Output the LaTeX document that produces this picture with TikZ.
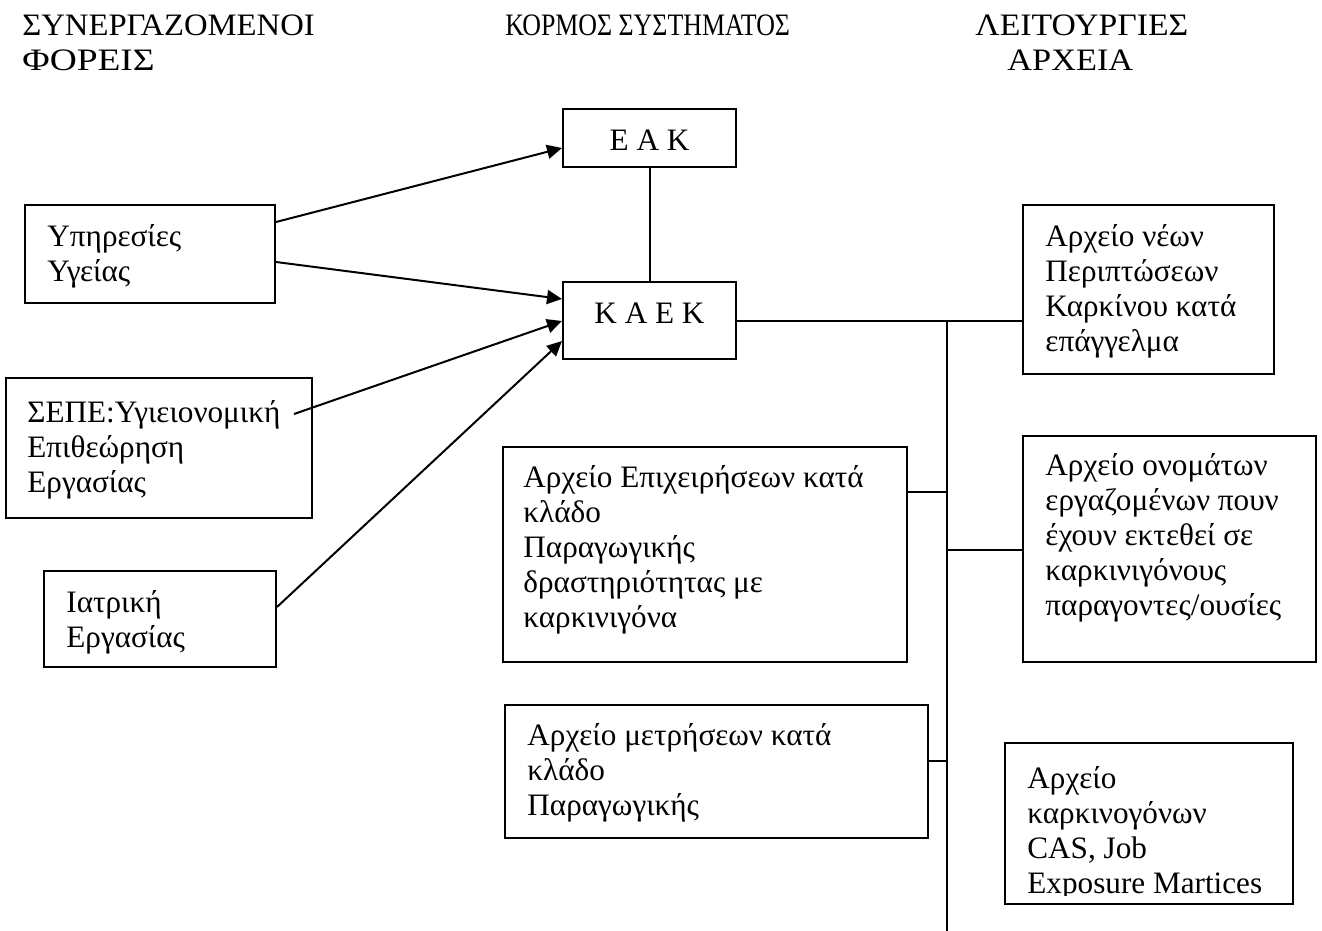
\documentclass[tikz,border=0pt]{standalone}
\usepackage{fontspec}
\usepackage{graphicx}
\setmainfont{Liberation Serif}
\usetikzlibrary{fit,calc,arrows.meta}
\newcommand\mylines[1]{\begin{tabular}[t]{@{}l@{}}#1\end{tabular}}
\begin{document}
\begin{tikzpicture}[x=0.5pt,y=-0.5pt,
  every node/.style={font=\fontsize{15.6pt}{17.5pt}\selectfont},
  box/.style={draw, line width=1pt, inner sep=0pt},
  txt/.style={inner sep=0pt, anchor=base west},
  conn/.style={line width=1pt},
  arr/.style={line width=1pt, -{Triangle[length=7.5pt,width=7pt]}}]
\useasboundingbox (0,0) rectangle (1322,931);
% headers
\node[txt] (h1) at (22,36) {\mylines{\scalebox{1.047}[1]{ΣΥΝΕΡΓΑΖΟΜΕΝΟΙ}\\\scalebox{1.2}[1]{ΦΟΡΕΙΣ}}};
\node[txt] (h2) at (505,36) {\scalebox{0.83}[1]{ΚΟΡΜΟΣ ΣΥΣΤΗΜΑΤΟΣ}};
\node[txt] (h3) at (975,36) {\scalebox{1.08}[1]{ΛΕΙΤΟΥΡΓΙΕΣ}};
\node[txt] (h4) at (1007,71) {\scalebox{1.1}[1]{ΑΡΧΕΙΑ}};
% boxes
\node[box, fit={(563,109) (736,167)}] (eak) {};
\node[inner sep=0pt, anchor=base] (eakt) at (649.5,150) {Ε Α Κ};
\node[box, fit={(563,282) (736,359)}] (kaek) {};
\node[inner sep=0pt, anchor=base] (kaekt) at (649.5,323) {Κ Α Ε Κ};
\node[box, fit={(25,205) (275,303)}] (uy) {};
\node[txt] (uyt) at (47,246) {\mylines{Υπηρεσίες\\Υγείας}};
\node[box, fit={(6,378) (312,518)}] (sepe) {};
\node[txt] (sepet) at (27,422) {\mylines{ΣΕΠΕ:Υγιειονομική\\Επιθεώρηση\\Εργασίας}};
\node[box, fit={(44,571) (276,667)}] (iat) {};
\node[txt] (iatt) at (66,612) {\mylines{Ιατρική\\Εργασίας}};
\node[box, fit={(1023,205) (1274,374)}] (nea) {};
\node[txt] (neat) at (1045,246) {\mylines{Αρχείο νέων\\Περιπτώσεων\\Καρκίνου κατά\\επάγγελμα}};
\node[box, fit={(503,447) (907,662)}] (epix) {};
\node[txt] (epixt) at (523,487) {\mylines{Αρχείο Επιχειρήσεων κατά\\κλάδο\\Παραγωγικής\\δραστηριότητας με\\καρκινιγόνα}};
\node[box, fit={(1023,436) (1316,662)}] (onom) {};
\node[txt] (onomt) at (1045,475) {\mylines{Αρχείο ονομάτων\\εργαζομένων πουν\\έχουν εκτεθεί σε\\καρκινιγόνους\\παραγοντες/ουσίες}};
\node[box, fit={(505,705) (928,838)}] (metr) {};
\node[txt] (metrt) at (527,745) {\mylines{Αρχείο μετρήσεων κατά\\κλάδο\\Παραγωγικής}};
\node[box, fit={(1005,743) (1293,904)}] (karc) {};
\begin{scope}
\clip (1006,744) rectangle (1292,895);
\node[txt] (karct) at (1027,788) {\mylines{Αρχείο\\καρκινογόνων\\CAS, Job\\Exposure Martices}};
\end{scope}
% connectors
\draw[conn] (eak) -- (kaek);
\draw[arr] ($(uy.north east)+(0,18)$) -- ($(eak.west)+(0,10)$);
\draw[arr] ($(uy.north east)+(0,58)$) -- ($(kaek.north west)+(0,18)$);
\coordinate (sepeout) at ($(sepe.north east)+(-19,37)$);
\draw[arr] (sepeout) -- ($(kaek.north west)+(0,40)$);
\draw[arr] ($(iat.north east)+(0,37)$) -- ($(kaek.north west)+(0,60)$);
\coordinate (bus) at (947,321);
\coordinate (busend) at (947,931);
\draw[conn] (kaek.east |- bus) -- (nea.west |- bus);
\draw[conn] (bus) -- (busend);
\draw[conn] ($(epix.north east)+(0,46)$) -- (bus |- {$(epix.north east)+(0,46)$});
\draw[conn] (bus |- {$(onom.north west)+(0,115)$}) -- ($(onom.north west)+(0,115)$);
\draw[conn] ($(metr.north east)+(0,57)$) -- (bus |- {$(metr.north east)+(0,57)$});
\end{tikzpicture}
\end{document}
